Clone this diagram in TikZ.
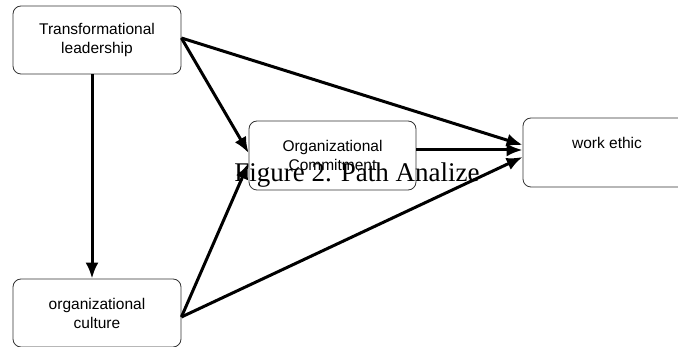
\documentclass[tikz,border=0pt]{standalone}
\usepackage{fontspec}
\usepackage{tikz}
\usetikzlibrary{arrows.meta}
\setmainfont{Liberation Serif}
\newfontfamily\boxfont{Liberation Sans}
\definecolor{rand}{HTML}{333333}
\tikzset{
  pfeil/.style={-{Latex[length=16pt,width=13pt]},black,line width=3pt},
  kasten/.style={draw=rand,fill=white,rounded corners=8pt,line width=0.8pt,
    minimum width=168pt,minimum height=68pt,align=center,
    font=\boxfont\fontsize{15.5}{19}\selectfont},
}
\begin{document}
\begin{tikzpicture}[x=1pt,y=-1pt]
  \useasboundingbox (0,0) rectangle (678,347);
  \node[kasten] (lead) at (97,40) {Transformational\\leadership};
  \node[kasten] (cult) at (97,313) {organizational\\culture};
  \node[kasten,minimum width=167pt,minimum height=69pt] (comm) at (332.5,155.5) {Organizational\\Commitment};
  \node[kasten,minimum height=69pt] (work) at (607,152.5) {work ethic\\\mbox{}};
  \draw[pfeil] ([xshift=-5pt]lead.south)--([xshift=-5pt]cult.north);
  \draw[pfeil] ([yshift=2pt]lead.east)--([yshift=2.5pt]comm.west);
  \draw[pfeil] ([yshift=2pt]lead.east)--([yshift=7.5pt]work.west);
  \draw[pfeil] ([yshift=-4pt]cult.east)--([yshift=-7.5pt]comm.west);
  \draw[pfeil] ([yshift=-4pt]cult.east)--([yshift=-4.5pt]work.west);
  \draw[pfeil] ([yshift=5.5pt]comm.east)--([yshift=2.5pt]work.west);
  \node[anchor=base,font=\fontsize{27}{32}\selectfont] (capt) at (357,182) {Figure 2. Path Analize};
\end{tikzpicture}
\end{document}
